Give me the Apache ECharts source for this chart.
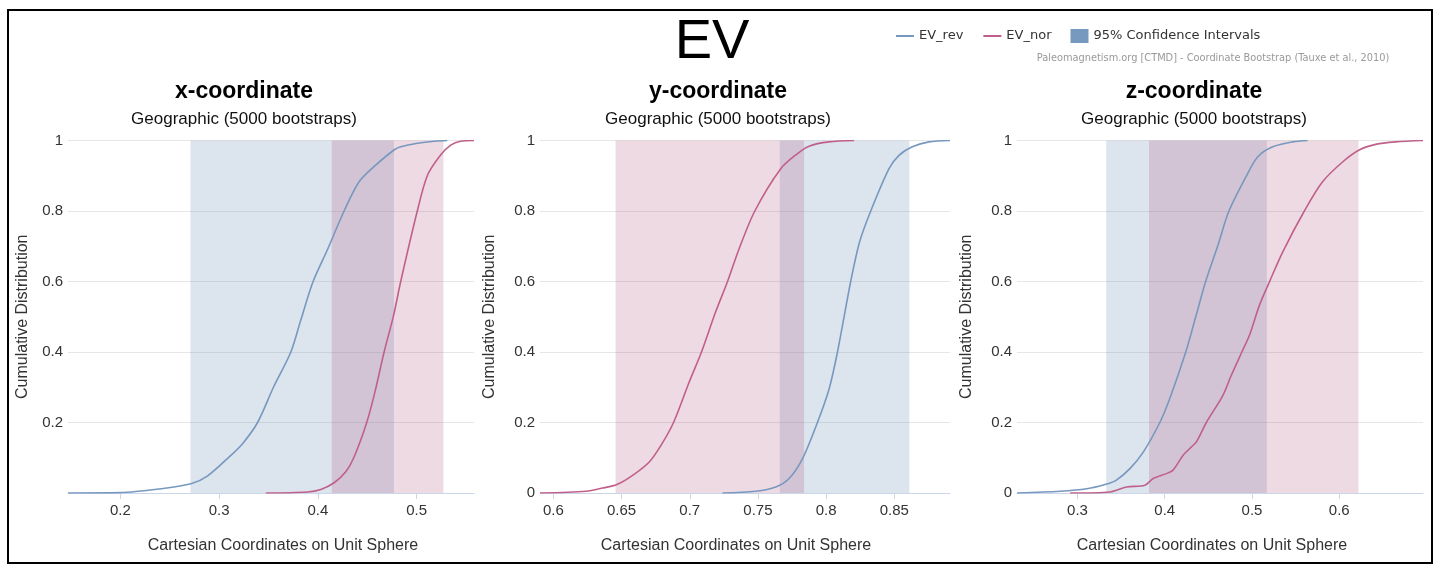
<!DOCTYPE html>
<html>
<head>
<meta charset="utf-8">
<title>EV – Coordinate Bootstrap</title>
<script src="https://cdn.jsdelivr.net/npm/echarts@6/dist/echarts.min.js"></script>
<style>
  html, body { margin: 0; padding: 0; background: #fff; }
  #chart { width: 1442px; height: 577px; }
</style>
</head>
<body>
<div id="chart"></div>
<script>
// Cumulative distributions of bootstrapped unit-sphere coordinates: [coordinate, cumulative fraction]
const xRev = [[0.147,0],[0.2,0.001],[0.241,0.012],[0.2715,0.026],[0.288,0.048],[0.31,0.102],[0.3237,0.14],[0.3389,0.2],[0.355,0.3],[0.3726,0.4],[0.3826,0.49],[0.3951,0.6],[0.4096,0.69],[0.4265,0.8],[0.4417,0.883],[0.4585,0.93],[0.477,0.973],[0.4838,0.982],[0.5006,0.992],[0.5175,0.998],[0.531,1]];
const xNor = [[0.3473,0],[0.3894,0.003],[0.4029,0.01],[0.4164,0.029],[0.4282,0.06],[0.4366,0.102],[0.4494,0.2],[0.458,0.29],[0.467,0.4],[0.4766,0.504],[0.4838,0.6],[0.5006,0.8],[0.511,0.902],[0.5242,0.959],[0.5344,0.987],[0.5445,0.998],[0.558,1]];
const yRev = [[0.724,0],[0.7484,0.005],[0.7631,0.017],[0.7728,0.041],[0.7826,0.097],[0.7936,0.2],[0.8022,0.296],[0.8083,0.4],[0.818,0.6],[0.8245,0.712],[0.8327,0.8],[0.8461,0.92],[0.8534,0.958],[0.8632,0.982],[0.8754,0.996],[0.8908,1]];
const yNor = [[0.5902,0],[0.6239,0.005],[0.6361,0.014],[0.6466,0.024],[0.6581,0.05],[0.6703,0.088],[0.6789,0.135],[0.6881,0.2],[0.6996,0.315],[0.7086,0.4],[0.719,0.514],[0.7277,0.6],[0.7362,0.693],[0.7477,0.8],[0.7667,0.92],[0.779,0.963],[0.7875,0.984],[0.802,0.996],[0.8205,1]];
const zRev = [[0.2307,0],[0.2802,0.005],[0.3107,0.012],[0.3316,0.024],[0.3442,0.036],[0.3601,0.069],[0.3754,0.116],[0.3944,0.2],[0.4058,0.268],[0.4241,0.4],[0.436,0.504],[0.4469,0.6],[0.461,0.703],[0.4736,0.8],[0.4941,0.902],[0.5067,0.954],[0.5238,0.982],[0.5467,0.996],[0.5638,1]];
const zNor = [[0.2916,0],[0.3373,0.003],[0.3563,0.017],[0.3773,0.022],[0.3868,0.041],[0.402,0.055],[0.4096,0.065],[0.4211,0.107],[0.4306,0.131],[0.4363,0.145],[0.4477,0.2],[0.4667,0.277],[0.4763,0.334],[0.4884,0.4],[0.4972,0.448],[0.5086,0.533],[0.52,0.599],[0.5353,0.684],[0.56,0.8],[0.5809,0.883],[0.6038,0.939],[0.6228,0.973],[0.6418,0.989],[0.6647,0.996],[0.696,1]];

// 95% confidence intervals [lower, upper]
const ciRevX = [0.271, 0.477];
const ciNorX = [0.414, 0.527];
const ciRevY = [0.766, 0.861];
const ciNorY = [0.6456, 0.7838];
const ciRevZ = [0.333, 0.517];
const ciNorZ = [0.382, 0.622];

// Axis extents and tick labels
const rangeX = [0.147, 0.558];
const rangeY = [0.5902, 0.8908];
const rangeZ = [0.2307, 0.696];
const ticksX = [0.2, 0.3, 0.4, 0.5];
const ticksY = [0.6, 0.65, 0.7, 0.75, 0.8, 0.85];
const ticksZ = [0.3, 0.4, 0.5, 0.6];

const panelTitles = ['x-coordinate', 'y-coordinate', 'z-coordinate'];
const panelSubtitle = 'Geographic (5000 bootstraps)';
const seriesNames = ['EV_rev', 'EV_nor', '95% Confidence Intervals'];

const FONT = '"Liberation Sans", Arial, sans-serif';
const LEGEND_FONT = '"DejaVu Sans", sans-serif';
const BLUE = '#7798BF';
const PINK = '#C0608A';
const BAND_BLUE = 'rgba(119,152,191,0.26)';
const BAND_PINK = 'rgba(170,70,110,0.2)';

const panels = [
  { rev: xRev, nor: xNor, ciRev: ciRevX, ciNor: ciNorX, range: rangeX, ticks: ticksX,
    grid: { left: 68, top: 140.5, width: 406, height: 352.5 }, center: 244,
    yGap: 37, showZero: false, namePad: [0, 0, 0, 24] },
  { rev: yRev, nor: yNor, ciRev: ciRevY, ciNor: ciNorY, range: rangeY, ticks: ticksY,
    grid: { left: 540, top: 140.5, width: 410, height: 352.5 }, center: 718,
    yGap: 42, showZero: true, namePad: [0, 18, 0, 0] },
  { rev: zRev, nor: zNor, ciRev: ciRevZ, ciNor: ciNorZ, range: rangeZ, ticks: ticksZ,
    grid: { left: 1017, top: 140.5, width: 406, height: 352.5 }, center: 1194,
    yGap: 42, showZero: true, namePad: [0, 16, 0, 0] }
];

const grids = [], xAxes = [], yAxes = [], series = [], graphics = [];

panels.forEach(function (p, i) {
  grids.push(Object.assign({ containLabel: false }, p.grid));

  xAxes.push({
    type: 'value', gridIndex: i, min: p.range[0], max: p.range[1],
    name: 'Cartesian Coordinates on Unit Sphere', nameLocation: 'middle', nameGap: 45,
    nameTextStyle: { fontFamily: FONT, fontSize: 16, color: '#333', padding: p.namePad },
    axisLine: { show: true, lineStyle: { color: '#ccd6eb', width: 1 } },
    axisTick: { show: true, length: 6, customValues: p.ticks, lineStyle: { color: '#ccd6eb' } },
    axisLabel: { customValues: p.ticks, margin: 10, fontFamily: FONT, fontSize: 15, color: '#333',
                 formatter: function (v) { return String(v); } },
    splitLine: { show: false }
  });

  yAxes.push({
    type: 'value', gridIndex: i, min: 0, max: 1, interval: 0.2,
    name: 'Cumulative Distribution', nameLocation: 'middle', nameRotate: 90, nameGap: p.yGap,
    nameTextStyle: { fontFamily: FONT, fontSize: 16, color: '#333' },
    axisLine: { show: false }, axisTick: { show: false },
    axisLabel: { margin: 5, fontFamily: FONT, fontSize: 15, color: '#333', showMinLabel: p.showZero,
                 formatter: function (v) { return String(Math.round(v * 10) / 10); } },
    splitLine: { show: true, lineStyle: { color: '#e6e6e6', width: 1 } }
  });

  // Confidence-interval bands, drawn behind the curves
  series.push({
    name: seriesNames[2], type: 'line', xAxisIndex: i, yAxisIndex: i, data: [],
    color: BLUE, z: 1, silent: true,
    markArea: {
      silent: true,
      data: [
        [{ xAxis: p.ciRev[0], itemStyle: { color: BAND_BLUE } }, { xAxis: p.ciRev[1] }],
        [{ xAxis: p.ciNor[0], itemStyle: { color: BAND_PINK } }, { xAxis: p.ciNor[1] }]
      ]
    }
  });

  series.push({
    name: seriesNames[0], type: 'line', xAxisIndex: i, yAxisIndex: i, data: p.rev,
    color: BLUE, symbol: 'none', smooth: 0.3, z: 3,
    lineStyle: { width: 1.6, color: BLUE }
  });
  series.push({
    name: seriesNames[1], type: 'line', xAxisIndex: i, yAxisIndex: i, data: p.nor,
    color: PINK, symbol: 'none', smooth: 0.3, z: 3,
    lineStyle: { width: 1.6, color: PINK }
  });

  graphics.push({
    type: 'text', x: p.center, y: 92,
    style: { text: panelTitles[i], font: 'bold 23px ' + FONT, fill: '#000', align: 'center', verticalAlign: 'middle' }
  });
  graphics.push({
    type: 'text', x: p.center, y: 119,
    style: { text: panelSubtitle, font: '17px ' + FONT, fill: '#111', align: 'center', verticalAlign: 'middle' }
  });
});

// Outer frame, main title and credits line
graphics.push({
  type: 'rect', shape: { x: 8, y: 10, width: 1424, height: 553 },
  style: { fill: 'none', stroke: '#000', lineWidth: 2 }, z: 10
});
graphics.push({
  type: 'text', x: 712, y: 43,
  style: { text: 'EV', font: '56px ' + FONT, fill: '#000', align: 'center', verticalAlign: 'middle' }
});
graphics.push({
  type: 'text', x: 1213, y: 58,
  style: { text: 'Paleomagnetism.org [CTMD] - Coordinate Bootstrap (Tauxe et al., 2010)',
           font: '9.8px ' + LEGEND_FONT, fill: '#999', align: 'center', verticalAlign: 'middle' }
});

const chart = echarts.init(document.getElementById('chart'), null, { renderer: 'canvas' });
chart.setOption({
  animation: false,
  backgroundColor: '#fff',
  grid: grids,
  xAxis: xAxes,
  yAxis: yAxes,
  legend: {
    left: 890, top: 24, itemWidth: 18, itemHeight: 14, itemGap: 19,
    textStyle: { fontFamily: LEGEND_FONT, fontSize: 13, color: '#333' },
    lineStyle: { width: 2 },
    data: [
      { name: seriesNames[0], itemStyle: { opacity: 0 }, lineStyle: { width: 2, color: BLUE } },
      { name: seriesNames[1], itemStyle: { opacity: 0 }, lineStyle: { width: 2, color: PINK } },
      { name: seriesNames[2], icon: 'rect', itemStyle: { color: BLUE } }
    ]
  },
  graphic: graphics,
  series: series
});
</script>
</body>
</html>
